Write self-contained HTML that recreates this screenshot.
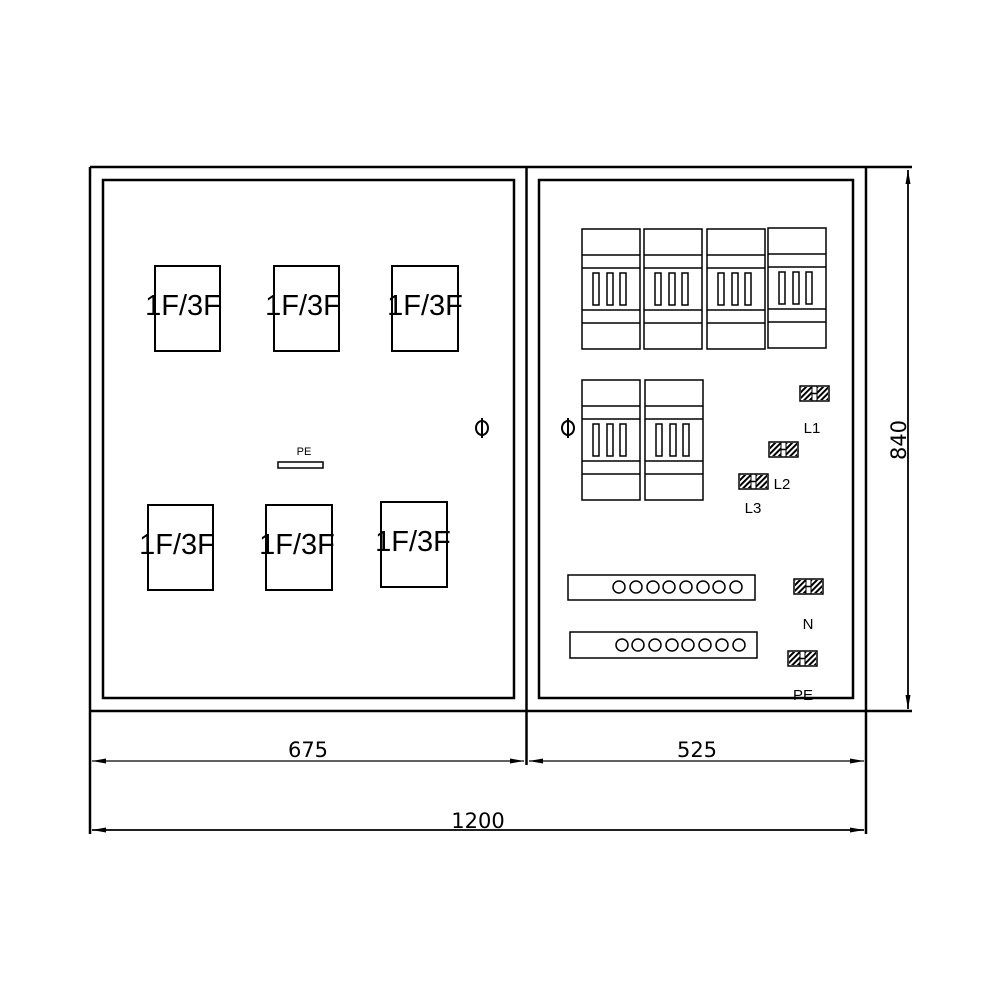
<!DOCTYPE html>
<html><head><meta charset="utf-8"><style>html,body{margin:0;padding:0;background:#fff}svg{display:block}</style></head>
<body>
<svg width="1000" height="1000" viewBox="0 0 1000 1000" xmlns="http://www.w3.org/2000/svg" font-family="'Liberation Sans', 'DejaVu Sans', sans-serif">
<defs>
<pattern id="h" width="4" height="4" patternUnits="userSpaceOnUse" patternTransform="rotate(45)">
<rect width="4" height="4" fill="#fff"/><rect width="2" height="4" fill="#000"/></pattern>
<g id="term">
<rect x="0" y="0" width="29" height="15" fill="#fff" stroke="#000" stroke-width="1.5"/>
<rect x="1" y="1" width="11" height="13" fill="url(#h)"/>
<rect x="17" y="1" width="11" height="13" fill="url(#h)"/>
<line x1="12" y1="7.5" x2="17" y2="7.5" stroke="#000" stroke-width="1.5"/>
<line x1="12" y1="0" x2="12" y2="15" stroke="#000" stroke-width="1"/>
<line x1="17" y1="0" x2="17" y2="15" stroke="#000" stroke-width="1"/>
</g>
<g id="brk" fill="none" stroke="#000" stroke-width="1.5">
<rect x="0" y="0" width="58" height="120"/>
<line x1="0" y1="26" x2="58" y2="26"/><line x1="0" y1="39" x2="58" y2="39"/>
<line x1="0" y1="81" x2="58" y2="81"/><line x1="0" y1="94" x2="58" y2="94"/>
<rect x="11" y="44" width="6" height="32"/><rect x="25" y="44" width="6" height="32"/><rect x="38" y="44" width="6" height="32"/>
</g>
<marker id="a" viewBox="0 0 14 5" refX="14" refY="2.5" markerWidth="14" markerHeight="5" markerUnits="userSpaceOnUse" orient="auto-start-reverse"><path d="M0,0 L14,2.5 L0,5 z" fill="#000"/></marker>
</defs>
<g fill="none" stroke="#000">
<line x1="90" y1="167" x2="912" y2="167" stroke-width="2.5"/>
<line x1="90" y1="711" x2="912" y2="711" stroke-width="2.5"/>
<line x1="90" y1="167" x2="90" y2="834" stroke-width="2.5"/>
<line x1="866" y1="167" x2="866" y2="834" stroke-width="2.5"/>
<line x1="526.5" y1="167" x2="526.5" y2="765" stroke-width="2.5"/>
<rect x="103" y="180" width="411" height="518" stroke-width="2.5"/>
<rect x="539" y="180" width="314" height="518" stroke-width="2.5"/>
<g stroke-width="2">
<rect x="155" y="266" width="65" height="85"/><rect x="274" y="266" width="65" height="85"/><rect x="392" y="266" width="66" height="85"/>
<rect x="148" y="505" width="65" height="85"/><rect x="266" y="505" width="66" height="85"/><rect x="381" y="502" width="66" height="85"/>
</g>
<rect x="278" y="462" width="45" height="6" stroke-width="1.5"/>
<line x1="92" y1="761" x2="524" y2="761" stroke-width="1.3" marker-start="url(#a)" marker-end="url(#a)"/>
<line x1="529" y1="761" x2="864" y2="761" stroke-width="1.3" marker-start="url(#a)" marker-end="url(#a)"/>
<line x1="92" y1="830" x2="864" y2="830" stroke-width="1.8" marker-start="url(#a)" marker-end="url(#a)"/>
<line x1="908" y1="170" x2="908" y2="709" stroke-width="1.8" marker-start="url(#a)" marker-end="url(#a)"/>
<rect x="568" y="575" width="187" height="25" stroke-width="1.5"/>
<rect x="570" y="632" width="187" height="26" stroke-width="1.5"/>
<g stroke-width="1.5">
<circle cx="619" cy="587" r="6"/><circle cx="636" cy="587" r="6"/><circle cx="653" cy="587" r="6"/><circle cx="669" cy="587" r="6"/><circle cx="686" cy="587" r="6"/><circle cx="703" cy="587" r="6"/><circle cx="719" cy="587" r="6"/><circle cx="736" cy="587" r="6"/>
<circle cx="622" cy="645" r="6"/><circle cx="638" cy="645" r="6"/><circle cx="655" cy="645" r="6"/><circle cx="672" cy="645" r="6"/><circle cx="688" cy="645" r="6"/><circle cx="705" cy="645" r="6"/><circle cx="722" cy="645" r="6"/><circle cx="739" cy="645" r="6"/>
</g>
<g stroke-width="2"><ellipse cx="482" cy="428" rx="6" ry="7"/><line x1="482" y1="418" x2="482" y2="438"/>
<ellipse cx="568" cy="428" rx="6" ry="7"/><line x1="568" y1="418" x2="568" y2="438"/></g>
</g>
<use href="#brk" x="582" y="229"/><use href="#brk" x="644" y="229"/><use href="#brk" x="707" y="229"/><use href="#brk" x="768" y="228"/>
<use href="#brk" x="582" y="380"/><use href="#brk" x="645" y="380"/>
<use href="#term" x="800" y="386"/><use href="#term" x="769" y="442"/><use href="#term" x="739" y="474"/>
<use href="#term" x="794" y="579"/><use href="#term" x="788" y="651"/>
<g font-size="29" text-anchor="middle">
<text x="183" y="315">1F/3F</text><text x="303" y="315">1F/3F</text><text x="425" y="315">1F/3F</text>
<text x="177" y="554">1F/3F</text><text x="297" y="554">1F/3F</text><text x="413" y="551">1F/3F</text>
</g>
<g font-size="15" text-anchor="middle">
<text x="812" y="433">L1</text><text x="782" y="489">L2</text><text x="753" y="513">L3</text>
<text x="808" y="629">N</text><text x="803" y="700">PE</text>
</g>
<text x="304" y="455" font-size="11" text-anchor="middle">PE</text>
<g font-size="21" text-anchor="middle" font-family="'DejaVu Sans', sans-serif">
<text x="308" y="757">675</text><text x="697" y="757">525</text><text x="478" y="828">1200</text>
<text transform="translate(906,440) rotate(-90)">840</text>
</g>
</svg>
</body></html>
